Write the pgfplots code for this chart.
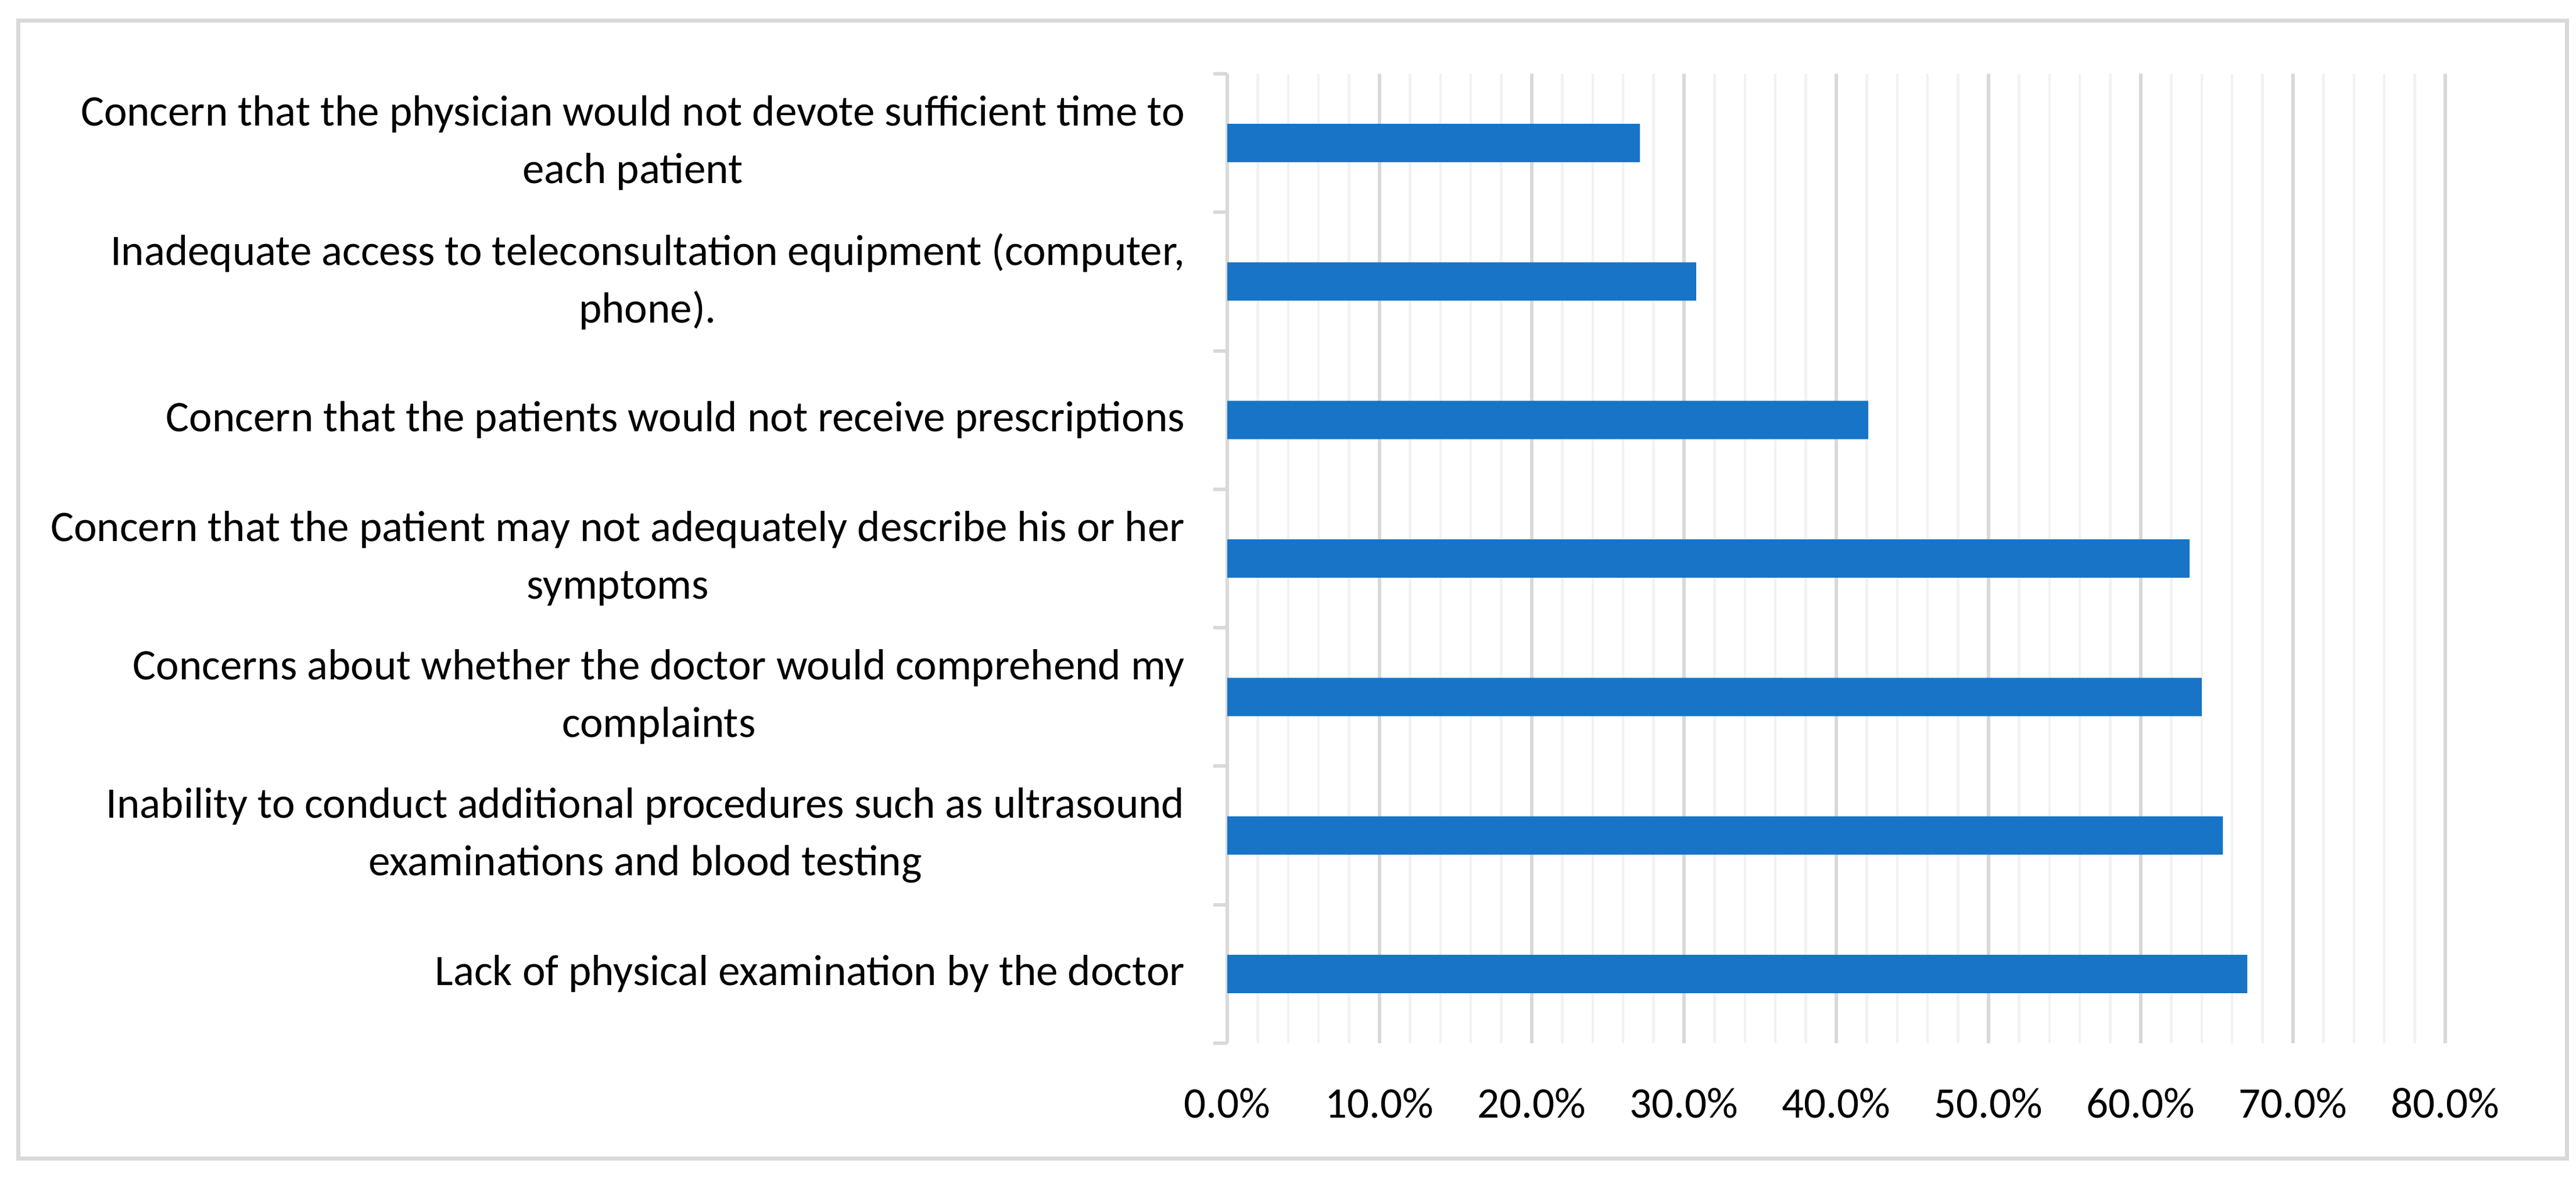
\documentclass[border=0pt]{standalone}
\usepackage{pgfplots}
\pgfplotsset{compat=1.18}
\usepackage{fontspec}
\setmainfont{Carlito}
\definecolor{barblue}{HTML}{1874C7}
\definecolor{gridmajor}{HTML}{D9D9D9}
\definecolor{gridminor}{HTML}{F2F2F2}

\begin{document}
\begin{tikzpicture}
  % outer chart frame
  \draw[gridmajor, line width=0.7pt] (3.1pt,4.5pt) rectangle (441.7pt,200.2pt);

  \begin{axis}[
    at={(211.2pt,24.3pt)}, anchor=south west,
    scale only axis,
    width=209.6pt, height=166.8pt,
    xbar, bar width=6.6pt,
    xmin=0, xmax=80,
    ymin=-0.5, ymax=6.5,
    axis lines*=left,
    x axis line style={draw=none},
    y axis line style={draw=gridmajor, line width=0.6pt, -},
    tick align=outside,
    major tick length=0pt,
    minor tick length=2.4pt,
    xtick={0,10,...,80},
    xticklabels={0.0\%,10.0\%,20.0\%,30.0\%,40.0\%,50.0\%,60.0\%,70.0\%,80.0\%},
    minor x tick num=4,
    minor x tick style={draw=none},
    xmajorgrids, xminorgrids,
    major x grid style={draw=gridmajor, line width=0.6pt},
    minor x grid style={draw=gridminor, line width=0.45pt},
    ytick={0,...,6},
    minor ytick={-0.5,0.5,...,6.5},
    minor y tick style={draw=gridmajor, line width=0.6pt},
    yticklabels={
      {Lack of physical examination by the doctor},
      {Inability to conduct additional procedures such as ultrasound\\[1pt]examinations and blood testing},
      {Concerns about whether the doctor would comprehend my\\[1pt]complaints},
      {Concern that the patient may not adequately describe his or her\\[1pt]symptoms},
      {Concern that the patients would not receive prescriptions},
      {Inadequate access to teleconsultation equipment (computer,\\[1pt]phone).},
      {Concern that the physician would not devote sufficient time to\\[1pt]each patient}
    },
    tick label style={font=\fontsize{7.5}{8.9}\selectfont},
    yticklabel style={align=center, anchor=east, inner sep=0pt, xshift=-7.1pt},
    xticklabel style={anchor=north, inner sep=0pt, yshift=-7.5pt},
  ]
    \addplot[fill=barblue, draw=none] coordinates {
      (67.0,0)
      (65.4,1)
      (64.0,2)
      (63.2,3)
      (42.1,4)
      (30.8,5)
      (27.1,6)
    };
  \end{axis}

  \pgfresetboundingbox
  \path (0pt,0pt) rectangle (443.3pt,203.8pt);
\end{tikzpicture}
\end{document}
